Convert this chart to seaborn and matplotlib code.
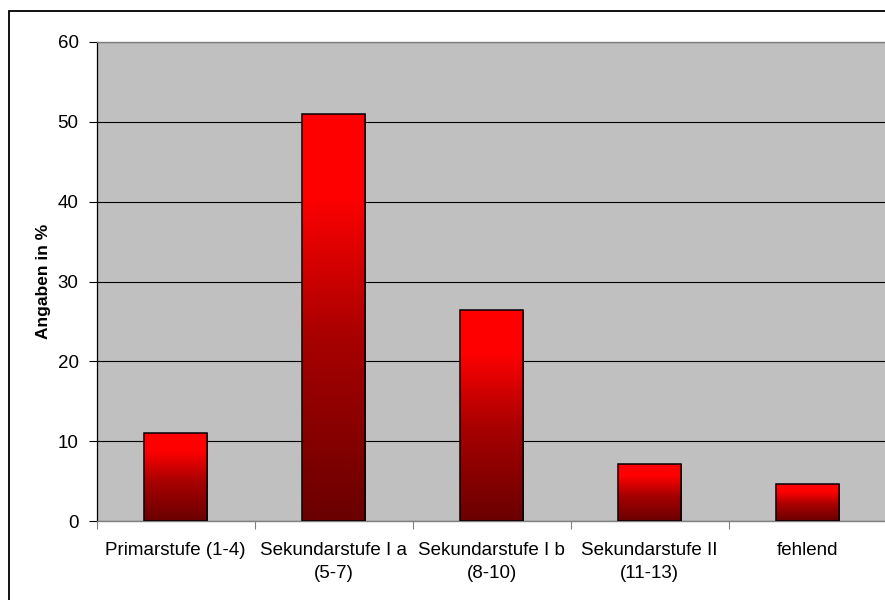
import numpy as np
import pandas as pd
import matplotlib
matplotlib.use('Agg')
import matplotlib.pyplot as plt
import seaborn as sns
from matplotlib.colors import LinearSegmentedColormap
from matplotlib.patches import Rectangle

# data
categories = ['Primarstufe (1-4)', 'Sekundarstufe I a\n(5-7)', 'Sekundarstufe I b\n(8-10)',
              'Sekundarstufe II\n(11-13)', 'fehlend']
values = [11.0, 51.0, 26.4, 7.1, 4.6]

df = pd.DataFrame({'stufe': categories, 'prozent': values})

sns.set_style('white')
plt.rcParams['font.family'] = ['Liberation Sans', 'DejaVu Sans']
plt.rcParams['text.color'] = 'black'
plt.rcParams['axes.labelcolor'] = 'black'
plt.rcParams['xtick.color'] = 'black'
plt.rcParams['ytick.color'] = 'black'

fig = plt.figure(figsize=(8.85, 6.0), dpi=100)
ax = fig.add_axes([96.7 / 885, 1 - 521 / 600, 790 / 885, 479 / 600])
ax.set_facecolor('#c0c0c0')

sns.barplot(data=df, x='stufe', y='prozent', order=categories, width=0.4,
            color='red', edgecolor='black', linewidth=1.1, ax=ax, zorder=3)

# vertical gradient in each bar: bright red on top, dark red at bottom
cmap = LinearSegmentedColormap.from_list('grad', [(0, '#6a0000'), (0.45, '#a80000'),
                                                  (0.8, '#ff0000'), (1, '#ff0000')])
grad = np.linspace(0, 1, 256).reshape(-1, 1)
for p in ax.patches:
    x0, y0 = p.get_x(), p.get_y()
    w, h = p.get_width(), p.get_height()
    p.set_facecolor('none')
    im = ax.imshow(grad, cmap=cmap, origin='lower', aspect='auto',
                   extent=[x0, x0 + w, y0, y0 + h], zorder=2.5)
    im.set_clip_path(p)

ax.set_xlim(-0.5, 4.5)
ax.set_ylim(0, 60)
ax.set_yticks(range(0, 61, 10))
ax.yaxis.grid(True, color='black', linewidth=0.8, zorder=1)
ax.set_axisbelow(True)

ax.set_xticks(range(5))
ax.set_xticklabels(categories)
ax.set_xticks(np.arange(-0.5, 5, 1), minor=True)
ax.tick_params(axis='x', which='major', length=0, pad=15, labelsize=13.5, labelcolor='black')
ax.tick_params(axis='x', which='minor', length=6, width=0.8, color='#808080', direction='out', bottom=True)
ax.tick_params(axis='y', length=6, width=0.8, color='black', direction='out', left=True,
               pad=7, labelsize=13.5, labelcolor='black')
for t in ax.get_xticklabels():
    t.set_linespacing(1.5)

ax.set_xlabel('')
ax.set_ylabel('Angaben in %', fontsize=12.5, fontweight='bold', labelpad=5, color='black')

for side in ['top', 'bottom', 'right']:
    ax.spines[side].set_color('#808080')
    ax.spines[side].set_linewidth(1.0)
ax.spines['left'].set_color('black')
ax.spines['left'].set_linewidth(0.9)

# outer chart border (cropped at right and bottom)
fig.patches.append(Rectangle((8.5 / 885, -0.05), 1.1, 1.05 - 11 / 600, transform=fig.transFigure,
                             fill=False, edgecolor='black', linewidth=1.3))

fig.savefig('out.png', dpi=100)
